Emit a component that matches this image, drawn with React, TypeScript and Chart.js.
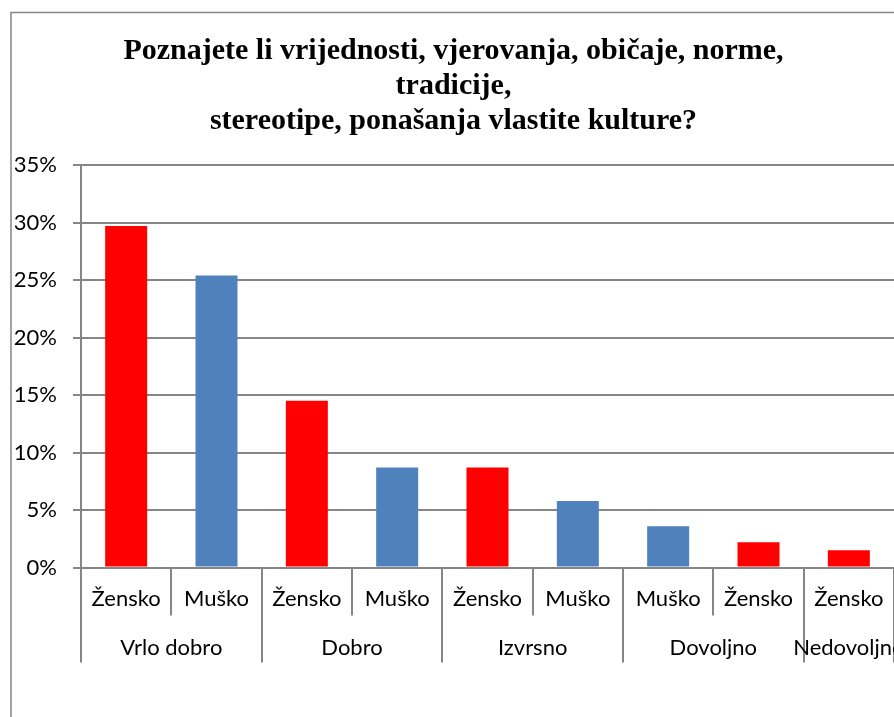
import React, { useEffect, useRef } from "react";
import { Chart, registerables } from "chart.js";

Chart.register(...registerables);

const titleLines = [
  "Poznajete li vrijednosti, vjerovanja, običaje, norme,",
  "tradicije,",
  "stereotipe, ponašanja vlastite kulture?",
];
const genders = ["Žensko", "Muško", "Žensko", "Muško", "Žensko", "Muško", "Muško", "Žensko", "Žensko"];
const groups = ["Vrlo dobro", "Dobro", "Izvrsno", "Dovoljno", "Nedovoljno"];
const groupSizes = [2, 2, 2, 2, 1];
const values = [29.7, 25.4, 14.5, 8.7, 8.7, 5.8, 3.6, 2.2, 1.5];
const yTicks = [0, 5, 10, 15, 20, 25, 30, 35];

const RED = "#FF0000";
const BLUE = "#4F81BD";
const GRID = "#868686";
const AXIS_FAMILY = "Lato, 'Noto Sans', sans-serif";
const AXIS_SIZE = 22;

export default function App() {
  const ref = useRef<HTMLCanvasElement>(null);

  useEffect(() => {
    if (!ref.current) return;

    const groupAxis = {
      id: "groupAxis",
      afterDraw(chart: any) {
        const { ctx, chartArea, scales } = chart;
        const x = scales.x;
        const n = genders.length;
        const step = x.getPixelForValue(1) - x.getPixelForValue(0);
        const edge = (i: number) => x.getPixelForValue(0) - step / 2 + i * step;
        const bottom = chartArea.bottom;
        const starts = new Set<number>([0]);
        let acc = 0;
        groupSizes.forEach((s) => {
          acc += s;
          starts.add(acc);
        });
        ctx.save();
        ctx.strokeStyle = GRID;
        ctx.lineWidth = 2;
        for (let i = 0; i <= n; i++) {
          const px = Math.round(edge(i));
          const long = starts.has(i);
          ctx.beginPath();
          ctx.moveTo(px, bottom);
          ctx.lineTo(px, bottom + (long ? 95 : 48));
          ctx.stroke();
        }
        ctx.fillStyle = "#000";
        ctx.font = `${AXIS_SIZE}px ${AXIS_FAMILY}`;
        ctx.textAlign = "center";
        ctx.textBaseline = "middle";
        acc = 0;
        groups.forEach((g, k) => {
          const c = (edge(acc) + edge(acc + groupSizes[k])) / 2;
          ctx.fillText(g, c, bottom + 80);
          acc += groupSizes[k];
        });
        // outer chart border
        ctx.lineWidth = 1.5;
        ctx.beginPath();
        ctx.moveTo(11, chart.height);
        ctx.lineTo(11, 12.5);
        ctx.lineTo(chart.width, 12.5);
        ctx.stroke();
        ctx.restore();
      },
    };

    const chart = new Chart(ref.current, {
      type: "bar",
      data: {
        labels: genders,
        datasets: [
          {
            data: values,
            backgroundColor: genders.map((g) => (g === "Žensko" ? RED : BLUE)),
            borderWidth: 0,
            categoryPercentage: 1,
            barPercentage: 0.465,
          },
        ],
      },
      options: {
        responsive: false,
        animation: false,
        layout: { padding: { left: 13, right: 0, top: 12, bottom: 87 } },
        plugins: {
          legend: { display: false },
          tooltip: { enabled: false },
          title: {
            display: true,
            text: titleLines,
            color: "#000",
            font: {
              family: "'Liberation Serif', 'Times New Roman', serif",
              size: 30,
              weight: "bold",
              lineHeight: 1.16,
            },
            padding: { top: 22, bottom: 26.6 },
          },
        },
        scales: {
          x: {
            grid: { display: false, drawTicks: false },
            border: { display: false },
            afterFit: (s: any) => {
              s.paddingLeft = 0;
              s.paddingRight = 0;
            },
            ticks: {
              color: "#000",
              font: { family: AXIS_FAMILY, size: AXIS_SIZE },
              padding: 18,
              maxRotation: 0,
              minRotation: 0,
              autoSkip: false,
            },
          },
          y: {
            min: 0,
            max: 35,
            afterBuildTicks: (s: any) => {
              s.ticks = yTicks.map((v) => ({ value: v }));
            },
            afterFit: (s: any) => {
              s.width = 68;
            },
            ticks: {
              color: "#000",
              font: { family: AXIS_FAMILY, size: AXIS_SIZE },
              padding: 16,
              callback: (v: any) => `${v}%`,
            },
            grid: { color: GRID, lineWidth: 2, tickLength: 8, drawTicks: true },
            border: { color: GRID, width: 2 },
          },
        },
      } as any,
      plugins: [groupAxis],
    });

    return () => chart.destroy();
  }, []);

  return (
    <div style={{ position: "fixed", left: 0, top: 0, width: 894, height: 717, background: "#fff", overflow: "hidden" }}>
      <canvas ref={ref} width={894} height={717} style={{ display: "block" }} />
    </div>
  );
}
